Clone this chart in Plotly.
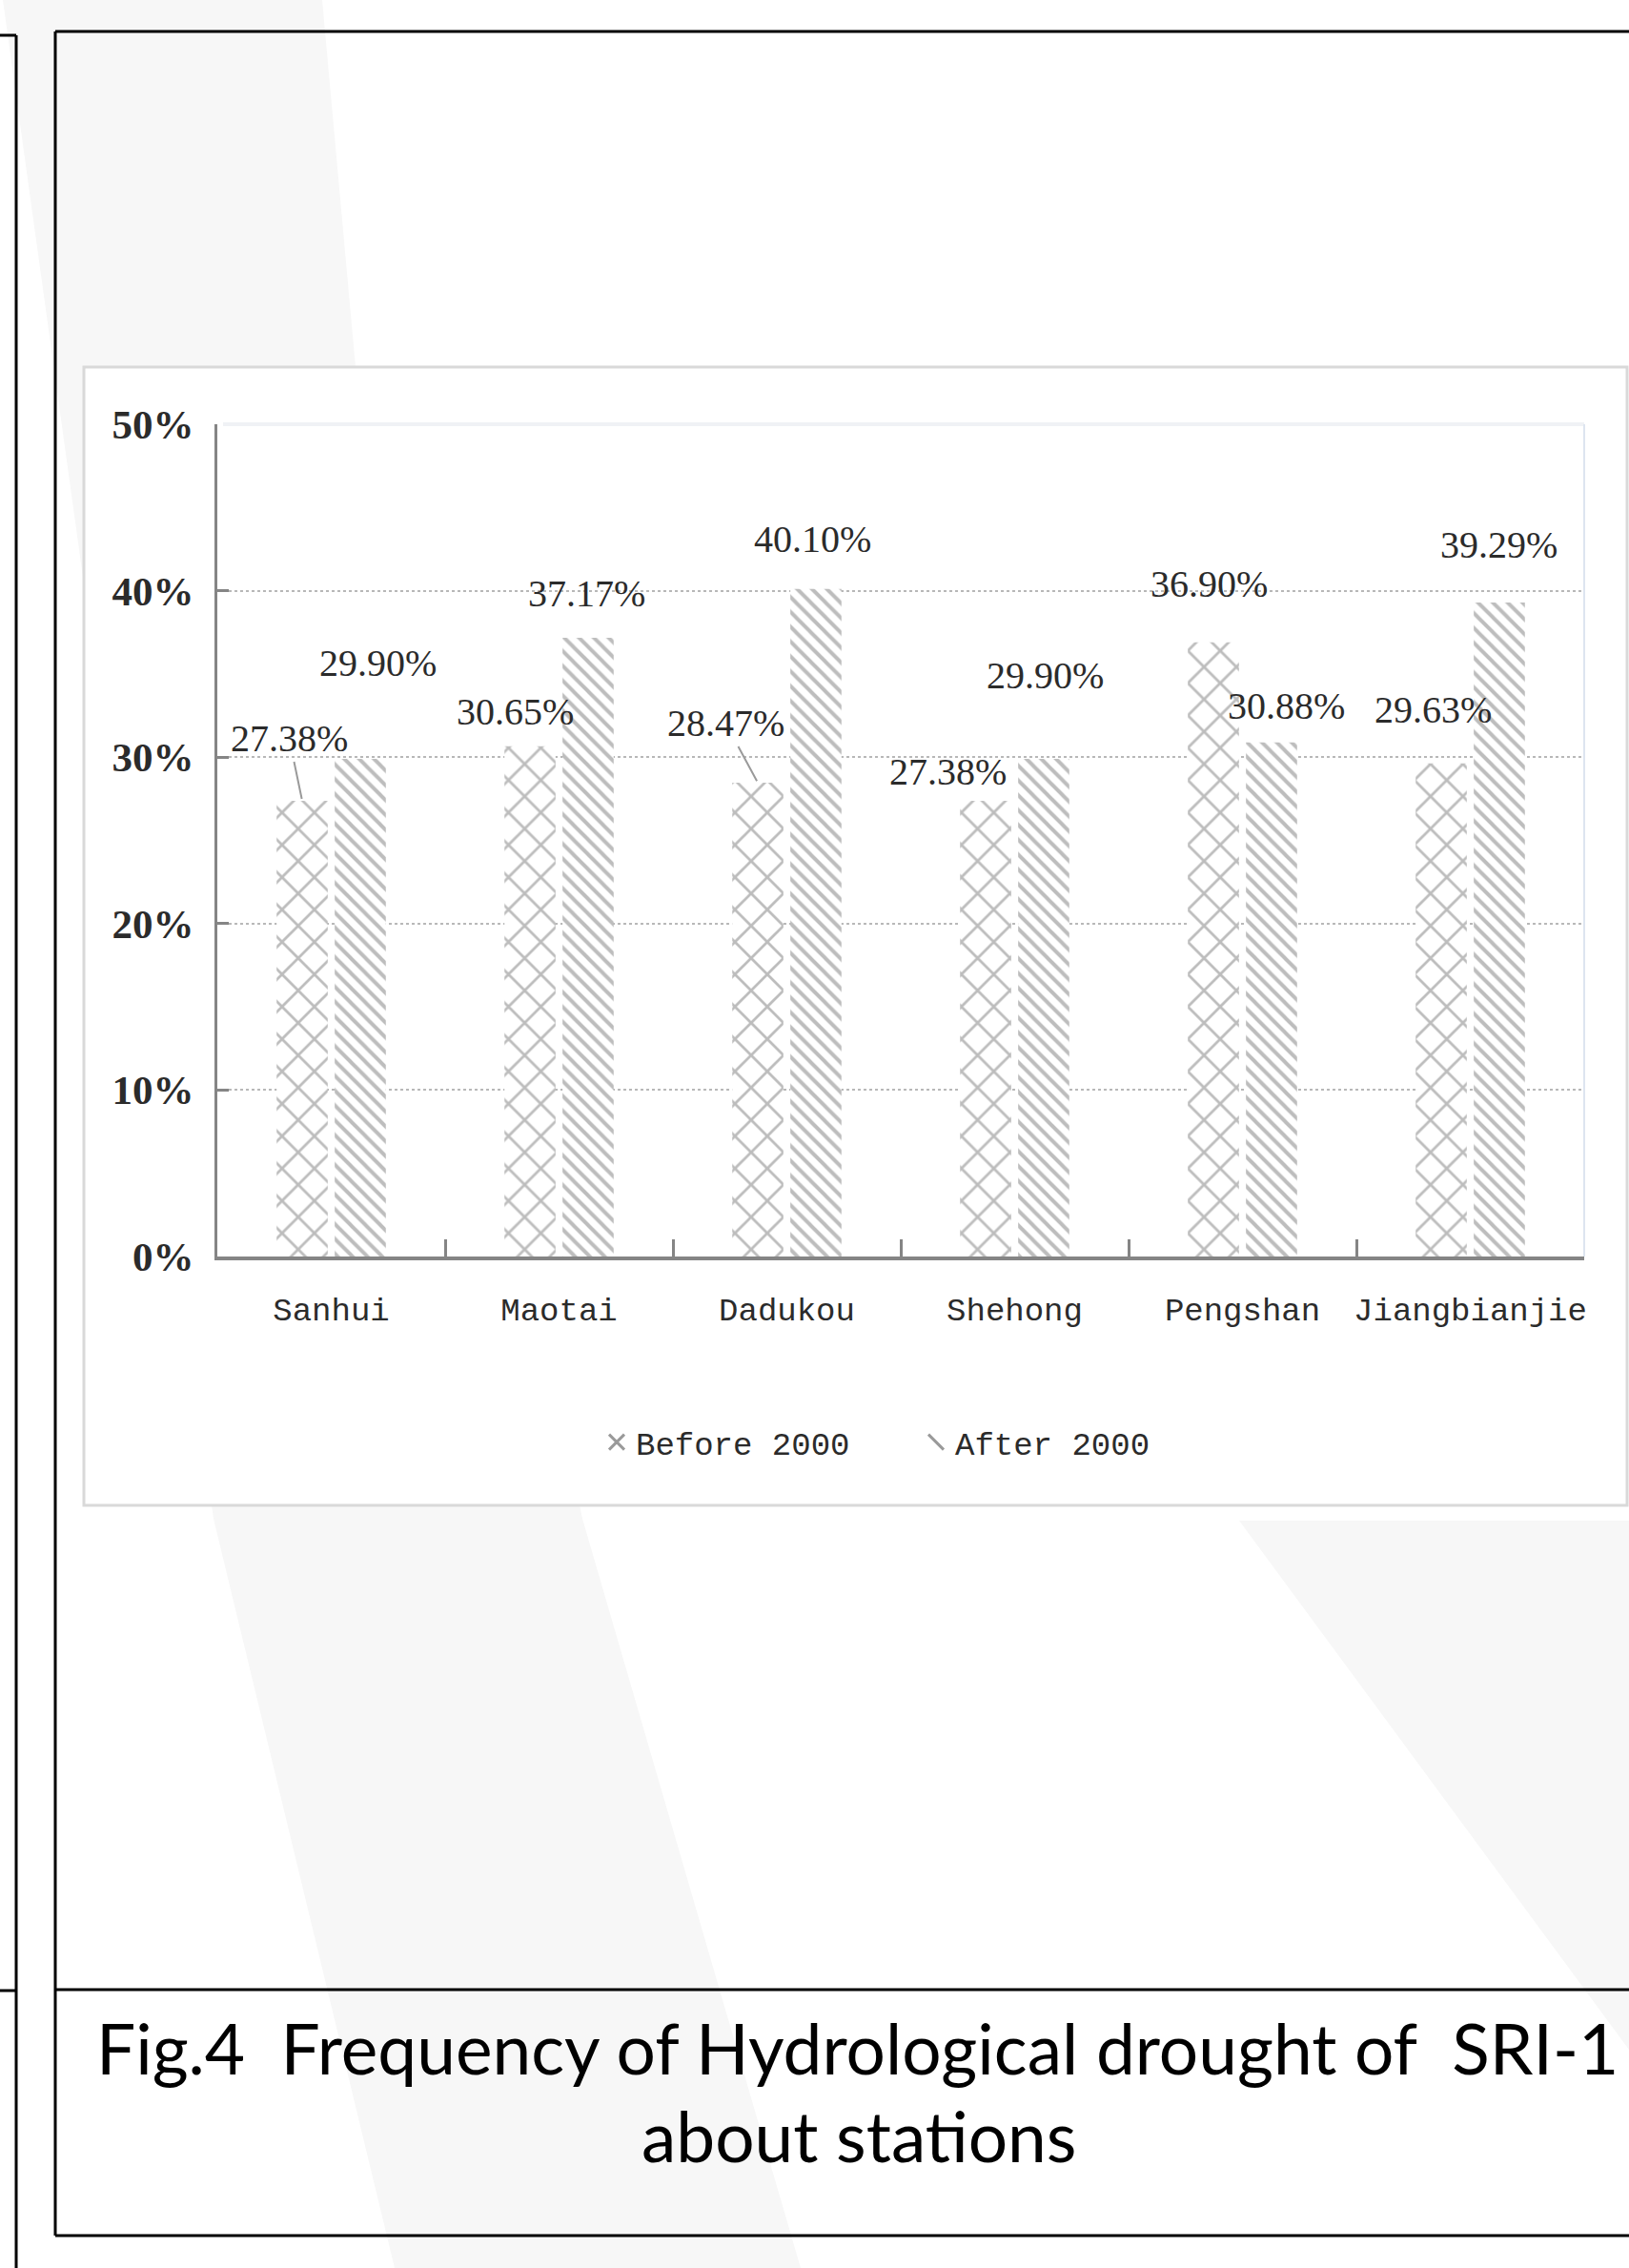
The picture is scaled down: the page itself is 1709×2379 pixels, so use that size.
import plotly.graph_objects as go

# ---------------- data ----------------
stations = ["Sanhui", "Maotai", "Dadukou", "Shehong", "Pengshan", "Jiangbianjie"]
before_2000 = [27.38, 30.65, 28.47, 27.38, 36.90, 29.63]
after_2000 = [29.90, 37.17, 40.10, 29.90, 30.88, 39.29]
y_tick_vals = [0, 10, 20, 30, 40, 50]
y_tick_text = ["0%", "10%", "20%", "30%", "40%", "50%"]
series_names = ["Before 2000", "After 2000"]
title_line1 = "Fig.4\u00a0\u00a0Frequency of Hydrological drought of\u00a0\u00a0SRI-1"
title_line2 = "about stations"

# ---------------- label placement (pixels, relative to category centre / bar top) ----------------
before_label_dx = [-44, -46, -64, -70, -35, -39]
before_label_dy = [-65, -36, -62, -30, -61, -56]
after_label_dx = [49, 29, 27, 32, 46, 30]
after_label_dy = [-100, -47, -52, -87, -38, -61]
before_leader = [True, False, True, False, False, False]

W, H = 1709, 2379
def X(px):
    return px / W
def Y(py):
    return 1 - py / H

PLOT_L, PLOT_R, PLOT_T, PLOT_B = 228, 1662, 445, 1318
BARGAP = 0.49
cat_w = (PLOT_R - PLOT_L) / len(stations)
bar_off = cat_w * (1 - BARGAP) / 4.0

GRAY = "#7c7c7c"
AXIS = "#858585"
TXT = "#2b2b2b"

fig = go.Figure()
fig.add_trace(go.Bar(
    x=stations, y=before_2000, name=series_names[0], showlegend=False,
    marker=dict(color="white", line=dict(width=0),
                pattern=dict(shape="x", fgcolor=GRAY, bgcolor="white", size=24, solidity=0.22)),
))
fig.add_trace(go.Bar(
    x=stations, y=after_2000, name=series_names[1], showlegend=False,
    marker=dict(color="white", line=dict(width=0),
                pattern=dict(shape="\\", fgcolor=GRAY, bgcolor="white", size=11, solidity=0.36)),
))
# legend entries (hatch-like glyphs)
fig.add_trace(go.Scatter(
    x=[None], y=[None], mode="markers", name=series_names[0], showlegend=True,
    marker=dict(symbol="x-thin-open", size=16, color="#9a9a9a", line=dict(color="#9a9a9a", width=3)),
))
fig.add_trace(go.Scatter(
    x=[None], y=[None], mode="markers", name=series_names[1], showlegend=True,
    marker=dict(symbol="line-nw-open", size=16, color="#9a9a9a", line=dict(color="#9a9a9a", width=3)),
))

annotations = []
lab_font = dict(family="Liberation Serif", size=40, color=TXT)
for i, s in enumerate(stations):
    v = before_2000[i]
    if before_leader[i]:
        annotations.append(dict(
            x=s, y=v, xref="x", yref="y", text=f"{v:.2f}%", font=lab_font,
            xshift=-bar_off, showarrow=True, arrowhead=0, arrowwidth=2,
            arrowcolor="#9a9a9a", standoff=2,
            ax=before_label_dx[i] + bar_off, ay=before_label_dy[i]))
    else:
        annotations.append(dict(
            x=s, y=v, xref="x", yref="y", text=f"{v:.2f}%", font=lab_font,
            showarrow=False, xanchor="center", yanchor="middle",
            xshift=before_label_dx[i], yshift=-before_label_dy[i]))
    v = after_2000[i]
    annotations.append(dict(
        x=s, y=v, xref="x", yref="y", text=f"{v:.2f}%", font=lab_font,
        showarrow=False, xanchor="center", yanchor="middle",
        xshift=after_label_dx[i], yshift=-after_label_dy[i]))

title_font = dict(family="Lato", size=73, color="black")
annotations.append(dict(x=X(900), y=Y(2148), xref="paper", yref="paper", text=title_line1,
                        showarrow=False, xanchor="center", yanchor="middle", font=title_font))
annotations.append(dict(x=X(901), y=Y(2240), xref="paper", yref="paper", text=title_line2,
                        showarrow=False, xanchor="center", yanchor="middle", font=title_font))

WM = "#f7f7f7"
shapes = [
    # faint watermark bands
    dict(type="path", xref="paper", yref="paper", layer="below", line=dict(width=0), fillcolor=WM,
         path=f"M{X(3)},{Y(0)} L{X(338)},{Y(0)} L{X(373)},{Y(385)} L{X(611)},{Y(1593)} L{X(840)},{Y(2379)} "
              f"L{X(414)},{Y(2379)} L{X(224)},{Y(1593)} Z"),
    dict(type="path", xref="paper", yref="paper", layer="below", line=dict(width=0), fillcolor=WM,
         path=f"M{X(1300)},{Y(1595)} L{X(1709)},{Y(1595)} L{X(1709)},{Y(2379)} L{X(1709)},{Y(2150)} Z"),
    # chart frame
    dict(type="rect", xref="paper", yref="paper", layer="below",
         x0=X(88), x1=X(1707), y0=Y(1579), y1=Y(385),
         line=dict(color="#d9d9d9", width=3), fillcolor="white"),
    # plot-area light border (top & right)
    dict(type="line", xref="paper", yref="paper", layer="above",
         x0=X(PLOT_L + 6), x1=X(PLOT_R), y0=Y(PLOT_T), y1=Y(PLOT_T), line=dict(color="#f0f2f5", width=4)),
    dict(type="line", xref="paper", yref="paper", layer="above",
         x0=X(PLOT_R), x1=X(PLOT_R), y0=Y(PLOT_T), y1=Y(PLOT_B), line=dict(color="#dde5f0", width=2)),
    # poster frames
    dict(type="line", xref="paper", yref="paper", x0=X(58), x1=X(1712), y0=Y(33), y1=Y(33), line=dict(color="black", width=3)),
    dict(type="line", xref="paper", yref="paper", x0=X(58), x1=X(58), y0=Y(33), y1=Y(2345), line=dict(color="black", width=3)),
    dict(type="line", xref="paper", yref="paper", x0=X(58), x1=X(1712), y0=Y(2345), y1=Y(2345), line=dict(color="black", width=3)),
    dict(type="line", xref="paper", yref="paper", x0=X(58), x1=X(1712), y0=Y(2087), y1=Y(2087), line=dict(color="black", width=3)),
    dict(type="line", xref="paper", yref="paper", x0=X(17), x1=X(17), y0=Y(37), y1=Y(2382), line=dict(color="black", width=3)),
    dict(type="line", xref="paper", yref="paper", x0=X(-3), x1=X(17), y0=Y(37), y1=Y(37), line=dict(color="black", width=3)),
    dict(type="line", xref="paper", yref="paper", x0=X(-3), x1=X(17), y0=Y(2088), y1=Y(2088), line=dict(color="black", width=3)),
]

fig.update_layout(
    width=W, height=H, autosize=False,
    margin=dict(l=0, r=0, t=0, b=0, autoexpand=False),
    paper_bgcolor="white", plot_bgcolor="rgba(0,0,0,0)",
    barmode="group", bargap=BARGAP, bargroupgap=0.12,
    showlegend=True,
    legend=dict(orientation="h", x=X(627), y=Y(1513), xanchor="left", yanchor="middle",
                font=dict(family="Liberation Mono", size=34, color=TXT),
                bgcolor="rgba(0,0,0,0)", entrywidth=290, entrywidthmode="pixels",
                itemsizing="trace"),
    xaxis=dict(domain=[X(PLOT_L), X(PLOT_R)], type="category", automargin=False,
               showline=True, linecolor=AXIS, linewidth=4, showgrid=False,
               ticks="inside", tickson="boundaries", ticklen=18, tickwidth=3, tickcolor=AXIS,
               tickangle=0,
               tickfont=dict(family="Liberation Mono", size=34, color=TXT),
               ticklabelstandoff=22),
    yaxis=dict(domain=[Y(PLOT_B), Y(PLOT_T)], range=[0, 50], automargin=False,
               tickmode="array", tickvals=y_tick_vals, ticktext=y_tick_text,
               showline=True, linecolor=AXIS, linewidth=3,
               ticks="inside", ticklen=12, tickwidth=3, tickcolor=AXIS,
               showgrid=True, gridcolor="#b8b8b8", griddash="dot", gridwidth=2,
               zeroline=False,
               tickfont=dict(family="Liberation Serif", size=43, color=TXT, weight="bold"),
               ticklabelstandoff=13),
    annotations=annotations,
    shapes=shapes,
)

fig.write_html("out.html")
